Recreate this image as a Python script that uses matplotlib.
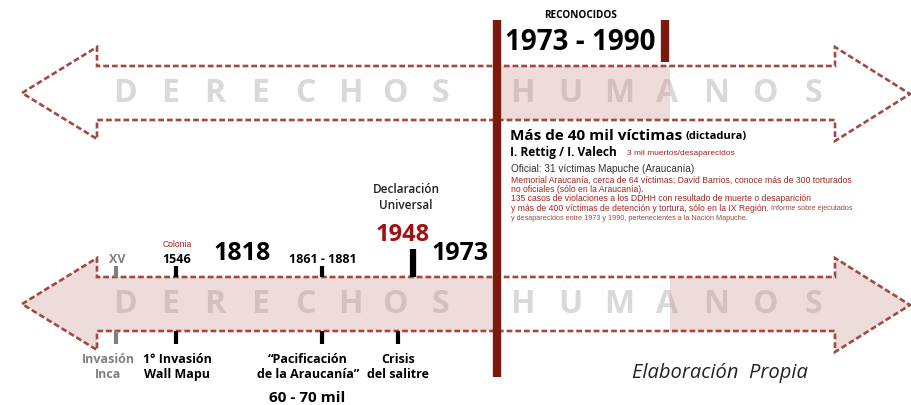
import matplotlib
matplotlib.use("Agg")
import matplotlib.pyplot as plt
from matplotlib.patches import Polygon, Rectangle

# ---- data ----
word_left = "DERECHOS"
word_right = "HUMANOS"

top_title = "RECONOCIDOS"
top_period = "1973 - 1990"
top_head = "Más de 40 mil víctimas"
top_head_note = "(dictadura)"
top_sub = "I. Rettig / I. Valech"
top_sub_note = "3 mil muertos/desaparecidos"
top_official = "Oficial: 31 víctimas Mapuche (Araucanía)"
top_lines = [
    "Memorial Araucanía, cerca de 64 víctimas; David Barrios, conoce más de 300 torturados",
    "no oficiales (sólo en la Araucanía).",
    "135 casos de violaciones a los DDHH con resultado de muerte o desaparición",
    "y más de 400 víctimas de detención y tortura, sólo en la IX Región.",
]
top_lines_note = "Informe sobre ejecutados"
top_last = "y desaparecidos entre 1973 y 1990, pertenecientes a la Nación Mapuche."

# events on the lower timeline
ev_years = ["XV", "1546", "1861 - 1881"]
ev_above = ["", "Colonia", ""]
ev_below = ["Invasión\nInca", "1° Invasión\nWall Mapu", "“Pacificación\nde la Araucanía”"]
ev_colors = ["#808080", "black", "black"]
ev_x = [116, 176, 322]
ev_below_x = [108, 177, 308]

big_years = ["1818", "1973"]
big_x = [242, 460]

decl_label = "Declaración\nUniversal"
decl_year = "1948"
crisis_label = "Crisis\ndel salitre"
pacif_count = "60 - 70 mil"
credit = "Elaboración  Propia"

# ---- style ----
RED = "#7d1a10"
DASH = "#a34a40"
PINK = "#c98b86"
FONT = "Open Sans"
SMALL = "Liberation Sans"

fig = plt.figure(figsize=(9.12, 4.06), dpi=100)
ax = fig.add_axes([0, 0, 1, 1])
ax.set_xlim(0, 912)
ax.set_ylim(406, 0)
ax.axis("off")


def arrow_pts(yc):
    tip_l, base_l, base_r, tip_r = 22, 97, 835, 910
    half_shaft, half_head = 27, 46
    return [(tip_l, yc), (base_l, yc - half_head), (base_l, yc - half_shaft),
            (base_r, yc - half_shaft), (base_r, yc - half_head), (tip_r, yc + 1),
            (base_r, yc + half_head + 2), (base_r, yc + half_shaft),
            (base_l, yc + half_shaft), (base_l, yc + half_head)]


def spaced_word(word, x0, step, yc):
    for i, ch in enumerate(word):
        ax.text(x0 + i * step, yc, ch, fontsize=23, fontweight="bold", family=FONT,
                color="#d9d9d9", ha="center", va="center", zorder=1)


def right_edge(t):
    fig.canvas.draw()
    return t.get_window_extent().transformed(ax.transData.inverted()).x1


# top arrow
ytop = 94
spaced_word(word_left, 125, 45.0, ytop)
spaced_word(word_right, 522, 48.5, ytop)
ax.add_patch(Rectangle((500, ytop - 27), 170, 54, color=PINK, alpha=0.3, lw=0, zorder=2))
ax.add_patch(Polygon(arrow_pts(ytop), closed=True, fill=False, ec=DASH, lw=1.9,
                     ls=(0, (2.2, 1.1)), zorder=3))

# bottom arrow
ybot = 305
spaced_word(word_left, 125, 45.0, ybot)
spaced_word(word_right, 522, 48.5, ybot)
p = arrow_pts(ybot)
left_fill = [p[0], p[1], p[2], (497, p[2][1]), (497, p[8][1]), p[8], p[9]]
right_fill = [(670, p[3][1]), p[3], p[4], p[5], p[6], p[7], (670, p[7][1])]
for pts in (left_fill, right_fill):
    ax.add_patch(Polygon(pts, closed=True, color=PINK, alpha=0.3, lw=0, zorder=2))
ax.add_patch(Polygon(p, closed=True, fill=False, ec=DASH, lw=1.9,
                     ls=(0, (2.2, 1.1)), zorder=3))

# red bars
ax.plot([497, 497], [21, 378], color=RED, lw=6, solid_capstyle="butt", zorder=4)
ax.plot([665, 665], [21, 63], color=RED, lw=6, solid_capstyle="butt", zorder=4)

# top block text
ax.text(581, 15, top_title, fontsize=7.2, fontweight="bold", family=FONT, ha="center", va="center")
ax.text(580, 43, top_period, fontsize=20, fontweight="bold", family=FONT, ha="center", va="center")
t = ax.text(510, 136, top_head, fontsize=11, fontweight="bold", family=FONT, va="center")
ax.text(right_edge(t) + 3, 137, top_head_note, fontsize=8, fontweight="bold", family=FONT,
        va="center")
ax.text(510, 153, top_sub, fontsize=8.6, fontweight="bold", family=FONT, va="center")
ax.text(627, 154, top_sub_note, fontsize=6, family=SMALL, color="#a0231c", va="center")
ax.text(511, 169, top_official, fontsize=7.2, family=SMALL, color="#333333", va="center")
line_y = [180, 189.5, 199, 209]
for yy, line in zip(line_y, top_lines):
    t = ax.text(511, yy, line, fontsize=6.2, family=SMALL, color="#9c2a22", va="center")
ax.text(right_edge(t) + 2, line_y[-1], top_lines_note, fontsize=5.2, family=SMALL,
        color="#9c4a44", va="center")
ax.text(511, 219, top_last, fontsize=5.2, family=SMALL, color="#9c4a44", va="center")

# bottom timeline events
for lab, above, below, col, x, xb in zip(ev_years, ev_above, ev_below, ev_colors, ev_x,
                                         ev_below_x):
    ax.text(x + 1, 260, lab, fontsize=9, fontweight="bold", family=FONT, color=col,
            ha="center", va="center")
    if above:
        ax.text(x + 1, 245, above, fontsize=6.2, family=SMALL, color="#a0231c",
                ha="center", va="center")
    ax.plot([x, x], [267, 278], color=col, lw=3, solid_capstyle="butt", zorder=4)
    ax.plot([x, x], [332, 345], color=col, lw=3, solid_capstyle="butt", zorder=4)
    ax.text(xb, 367, below, fontsize=9, fontweight="bold", family=FONT,
            color=col, ha="center", va="center", linespacing=1.25)

for lab, x in zip(big_years, big_x):
    ax.text(x, 254, lab, fontsize=18, fontweight="bold", family=FONT, ha="center", va="center")

ax.text(406, 198, decl_label, fontsize=8.5, fontweight="semibold", family=FONT,
        color="#222222", ha="center", va="center", linespacing=1.3)
ax.text(403, 235, decl_year, fontsize=17, fontweight="bold", family=FONT, color="#a01010",
        ha="center", va="center")
ax.plot([413, 413], [250, 278], color="black", lw=4.5, solid_capstyle="butt", zorder=4)

ax.plot([398, 398], [332, 345], color="black", lw=3, solid_capstyle="butt", zorder=4)
ax.text(398, 367, crisis_label, fontsize=9, fontweight="bold", family=FONT,
        ha="center", va="center", linespacing=1.25)
ax.text(307, 398, pacif_count, fontsize=11, fontweight="bold", family=FONT,
        ha="center", va="center")

ax.text(720, 373, credit, fontsize=14.5, style="italic", family=FONT, color="#222222",
        ha="center", va="center")

fig.savefig("out.png", dpi=100)
